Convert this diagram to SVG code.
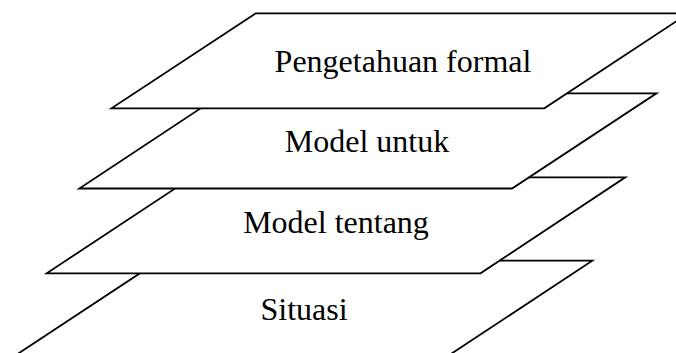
<svg xmlns="http://www.w3.org/2000/svg" width="676" height="353" viewBox="0 0 676 353">
<style>
.layer{fill:#fff;stroke:#000;stroke-width:1.8;stroke-linejoin:miter}
.lbl{font-family:"Liberation Serif","Times New Roman",serif;font-size:32px;fill:#000;text-anchor:middle}
</style>
<rect width="676" height="353" fill="#fff"/>
<g id="situasi">
<polygon class="layer" points="159,260.7 592.3,260.7 448.3,355.7 15,355.7"/>
<text class="lbl" x="304" y="320">Situasi</text>
</g>
<g id="model-tentang">
<polygon class="layer" points="192,177.3 625.3,177.3 480.5,273.3 46.7,273.3"/>
<text class="lbl" x="336" y="233">Model tentang</text>
</g>
<g id="model-untuk">
<polygon class="layer" points="223.3,93.3 656.5,93.3 512,188.5 79.3,188.5"/>
<text class="lbl" x="367" y="151.7">Model untuk</text>
</g>
<g id="pengetahuan-formal">
<polygon class="layer" points="255.7,13.3 688.5,13.3 544.3,108.3 111.5,108.3"/>
<text class="lbl" x="403" y="71.7">Pengetahuan formal</text>
</g>
<g id="connectors"></g>
</svg>
